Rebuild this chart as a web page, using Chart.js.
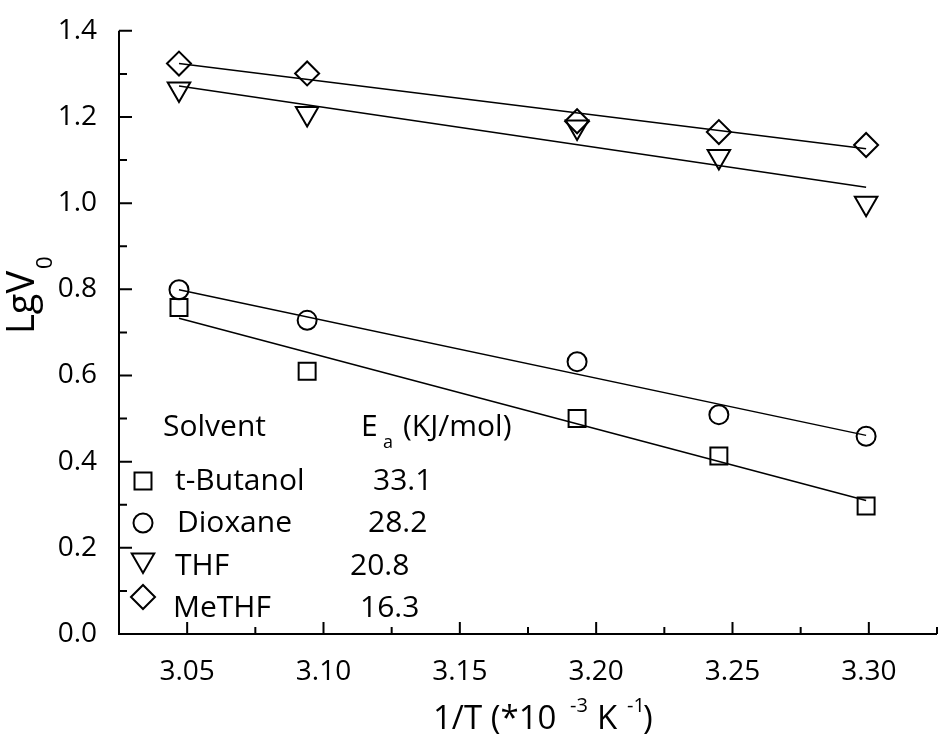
<!DOCTYPE html>
<html><head><meta charset="utf-8">
<script src="https://cdn.jsdelivr.net/npm/chart.js@4/dist/chart.umd.min.js"></script>
<style>html,body{margin:0;padding:0;background:#fff;} #c{display:block;}</style>
</head><body>
<canvas id="c" width="952" height="740"></canvas>
<script>
// ---- data ----
const invT = [3.047, 3.094, 3.193, 3.245, 3.299];
const tButanol = [0.758, 0.610, 0.500, 0.413, 0.297];
const dioxane = [0.799, 0.728, 0.632, 0.509, 0.459];
const thf = [1.265, 1.208, 1.177, 1.108, 1.000];
const methf = [1.324, 1.301, 1.190, 1.165, 1.135];
// fitted lines (end points)
const fitX = [3.047, 3.299];
const fitTButanol = [0.733, 0.310];
const fitDioxane = [0.799, 0.461];
const fitTHF = [1.272, 1.037];
const fitMeTHF = [1.324, 1.126];
// ticks
const xTicks = [3.05, 3.10, 3.15, 3.20, 3.25, 3.30];
const xMinor = [3.025, 3.075, 3.125, 3.175, 3.225, 3.275, 3.325];
const yTicks = [0.0, 0.2, 0.4, 0.6, 0.8, 1.0, 1.2, 1.4];
const yMinor = [0.1, 0.3, 0.5, 0.7, 0.9, 1.1, 1.3];
// legend
const solvents = ['t-Butanol', 'Dioxane', 'THF', 'MeTHF'];
const eaValues = ['33.1', '28.2', '20.8', '16.3'];

const FONT = "'Open Sans', 'DejaVu Sans', sans-serif";
const pts = (xs, ys) => xs.map((x, i) => ({x: x, y: ys[i]}));

const markers = [
  {pointStyle: 'rect', radius: 12, rotation: 0},
  {pointStyle: 'circle', radius: 9.5, rotation: 0},
  {pointStyle: 'triangle', radius: 13, rotation: 180},
  {pointStyle: 'rectRot', radius: 12, rotation: 0}
];
const seriesVals = [tButanol, dioxane, thf, methf];
const fitVals = [fitTButanol, fitDioxane, fitTHF, fitMeTHF];

const datasets = [];
fitVals.forEach((f, i) => {
  datasets.push({
    label: solvents[i] + ' fit', data: pts(fitX, f), showLine: true,
    borderColor: '#000', borderWidth: 1.5, pointRadius: 0, fill: false
  });
});
seriesVals.forEach((s, i) => {
  datasets.push({
    label: solvents[i], data: pts(invT, s), showLine: false,
    pointStyle: markers[i].pointStyle, pointRadius: markers[i].radius,
    pointRotation: markers[i].rotation, pointBorderWidth: 2,
    pointBorderColor: '#000', pointBackgroundColor: 'rgba(0,0,0,0)'
  });
});

function drawMarker(ctx, m, x, y) {
  ctx.save();
  ctx.strokeStyle = '#000'; ctx.lineWidth = 2; ctx.fillStyle = 'rgba(0,0,0,0)';
  if (Chart.helpers && Chart.helpers.drawPoint) {
    Chart.helpers.drawPoint(ctx, {pointStyle: m.pointStyle, radius: m.radius, rotation: m.rotation, borderWidth: 2}, x, y);
  }
  ctx.restore();
}

const decor = {
  id: 'decor',
  afterDraw(chart) {
    const ctx = chart.ctx;
    const xs = chart.scales.x, ys = chart.scales.y;
    const a = chart.chartArea;
    ctx.save();
    ctx.strokeStyle = '#000';
    ctx.lineWidth = 2;
    ctx.lineCap = 'butt';
    // axes
    ctx.beginPath();
    ctx.moveTo(a.left, a.top); ctx.lineTo(a.left, a.bottom + 1);
    ctx.moveTo(a.left - 1, a.bottom); ctx.lineTo(a.right, a.bottom);
    ctx.stroke();
    // ticks (inward)
    ctx.beginPath();
    xTicks.forEach(v => { const p = xs.getPixelForValue(v); ctx.moveTo(p, a.bottom); ctx.lineTo(p, a.bottom - 12); });
    xMinor.forEach(v => { const p = xs.getPixelForValue(v); ctx.moveTo(p, a.bottom); ctx.lineTo(p, a.bottom - 7); });
    yTicks.forEach(v => { const p = ys.getPixelForValue(v); ctx.moveTo(a.left, p); ctx.lineTo(a.left + 13, p); });
    yMinor.forEach(v => { const p = ys.getPixelForValue(v); ctx.moveTo(a.left, p); ctx.lineTo(a.left + 8, p); });
    ctx.stroke();

    ctx.fillStyle = '#000';
    ctx.textBaseline = 'alphabetic';
    ctx.textAlign = 'left';
    // x title
    ctx.font = '33px ' + FONT;
    ctx.fillText('1/T (*10', 433, 729);
    ctx.font = '20px ' + FONT;
    ctx.fillText('-3', 570, 712);
    ctx.font = '33px ' + FONT;
    ctx.fillText('K', 597, 729);
    ctx.font = '20px ' + FONT;
    ctx.fillText('-1', 627, 712);
    ctx.font = '33px ' + FONT;
    ctx.fillText(')', 643, 729);

    // y title
    ctx.save();
    ctx.translate(34, 334);
    ctx.rotate(-Math.PI / 2);
    ctx.font = '38px ' + FONT;
    ctx.fillText('LgV', 0, 0);
    const w = ctx.measureText('LgV').width;
    ctx.font = '22px ' + FONT;
    ctx.fillText('0', w + 2, 18);
    ctx.restore();

    // legend
    ctx.font = '30px ' + FONT;
    ctx.fillText('Solvent', 163, 436);
    ctx.fillText('E', 361, 436);
    ctx.fillText('(KJ/mol)', 403, 436);
    ctx.font = '18px ' + FONT;
    ctx.fillText('a', 383, 448);
    const rowBase = [490, 532, 575, 617];
    const nameX = [175, 177, 175, 173];
    const valX = [373, 368, 350, 360];
    const symY = [481, 523, 560, 597];
    ctx.font = '30px ' + FONT;
    solvents.forEach((s, i) => {
      ctx.fillText(s, nameX[i], rowBase[i]);
      ctx.fillText(eaValues[i], valX[i], rowBase[i]);
    });
    ctx.restore();
    markers.forEach((m, i) => drawMarker(ctx, m, 143, symY[i]));
  }
};

new Chart(document.getElementById('c'), {
  type: 'scatter',
  data: {datasets: datasets},
  options: {
    responsive: false,
    animation: false,
    layout: {padding: {top: 20, right: 3, left: 0, bottom: 0}},
    plugins: {legend: {display: false}, tooltip: {enabled: false}},
    scales: {
      x: {
        type: 'linear', min: 3.025, max: 3.325,
        afterBuildTicks: s => { s.ticks = xTicks.map(v => ({value: v})); },
        afterFit: s => { s.height = 106; },
        grid: {display: false}, border: {display: false},
        ticks: {
          padding: 13, color: '#000', font: {family: FONT, size: 28},
          callback: v => Number(v).toFixed(2), maxRotation: 0, autoSkip: false
        }
      },
      y: {
        type: 'linear', min: 0, max: 1.4,
        afterBuildTicks: s => { s.ticks = yTicks.map(v => ({value: v})); },
        afterFit: s => { s.width = 119; },
        grid: {display: false}, border: {display: false},
        ticks: {
          padding: 14, color: '#000', font: {family: FONT, size: 28},
          callback: v => Number(v).toFixed(1)
        }
      }
    }
  },
  plugins: [decor]
});
</script>
</body></html>
